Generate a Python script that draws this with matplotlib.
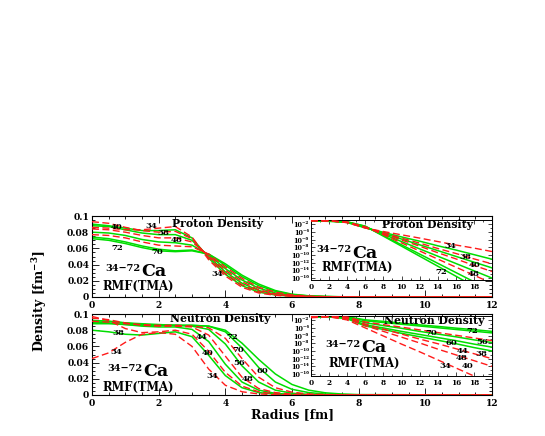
import matplotlib
matplotlib.use('Agg')
import matplotlib.pyplot as plt
from matplotlib.ticker import MultipleLocator, FixedLocator, NullFormatter, FixedFormatter

plt.rcParams['font.family'] = ['DejaVu Serif']
plt.rcParams['font.weight'] = 'bold'
plt.rcParams['mathtext.fontset'] = 'dejavuserif'
plt.rcParams['mathtext.default'] = 'bf'

# ---------------- data ----------------
isotopes = [34, 38, 40, 44, 48, 56, 60, 70, 72]
styles_p = ['r', 'g', 'r', 'g', 'r', 'g', 'r', 'g', 'g']
styles_n = ['r', 'g', 'r', 'g', 'r', 'g', 'r', 'g', 'g']

radius = [0, 0.5, 1, 1.5, 2, 2.5, 3, 3.5, 4, 4.5, 5, 5.5, 6, 6.5, 7, 7.5, 8, 12]

proton_34 = [.086, .085, .083, .083, .085, .087, .074, .046, .026, .012, .005, .002, .0008, .0003, .0001, 0, 0, 0]
proton_38 = [.090, .088, .085, .082, .082, .083, .073, .048, .028, .014, .006, .0025, .001, .0004, .0002, .0001, 0, 0]
proton_40 = [.093, .091, .086, .082, .080, .081, .072, .049, .029, .015, .007, .003, .0012, .0005, .0002, .0001, 0, 0]
proton_44 = [.088, .087, .083, .079, .077, .077, .070, .050, .031, .017, .008, .0035, .0014, .0006, .0002, .0001, 0, 0]
proton_48 = [.084, .083, .080, .076, .073, .073, .068, .051, .033, .019, .009, .004, .0017, .0007, .0003, .0001, 0, 0]
proton_56 = [.080, .079, .076, .071, .068, .067, .064, .052, .035, .021, .011, .005, .002, .0009, .0004, .0001, 0, 0]
proton_60 = [.077, .076, .073, .068, .064, .063, .062, .053, .037, .023, .012, .006, .0026, .0011, .0005, .0002, 0, 0]
proton_70 = [.074, .072, .068, .063, .059, .057, .058, .053, .039, .025, .014, .007, .003, .0013, .0006, .0002, 0, 0]
proton_72 = [.072, .070, .066, .061, .057, .056, .057, .053, .041, .027, .016, .008, .0035, .0015, .0007, .0003, .0001, 0]

neutron_34 = [.045, .052, .065, .075, .077, .075, .060, .032, .012, .004, .0013, .0004, .0001, 0, 0, 0, 0, 0]
neutron_38 = [.080, .078, .075, .074, .076, .078, .072, .049, .024, .009, .003, .001, .0003, .0001, 0, 0, 0, 0]
neutron_40 = [.097, .092, .082, .077, .078, .080, .075, .054, .028, .011, .004, .0013, .0004, .0001, 0, 0, 0, 0]
neutron_44 = [.090, .089, .087, .085, .084, .084, .081, .066, .038, .016, .006, .002, .0006, .0002, .0001, 0, 0, 0]
neutron_48 = [.095, .093, .089, .086, .085, .085, .084, .074, .048, .022, .008, .003, .001, .0003, .0001, 0, 0, 0]
neutron_56 = [.088, .088, .087, .086, .086, .086, .085, .081, .063, .036, .016, .006, .0022, .0008, .0003, .0001, 0, 0]
neutron_60 = [.091, .090, .088, .087, .086, .086, .085, .083, .070, .045, .022, .009, .0035, .0013, .0005, .0002, .0001, 0]
neutron_70 = [.092, .091, .089, .087, .086, .086, .086, .085, .078, .058, .034, .016, .007, .003, .0012, .0005, .0002, 0]
neutron_72 = [.092, .091, .089, .088, .087, .086, .086, .085, .080, .064, .044, .026, .013, .006, .0027, .0012, .0005, 0]

radius_log = [0, 2, 4, 6, 8, 10, 12, 14, 16, 18, 20]

log_proton_34 = [-1.07, -1.07, -1.59, -3.0, -3.9, -4.75, -5.6, -6.5, -7.4, -8.2, -9.1]
log_proton_38 = [-1.05, -1.09, -1.55, -2.95, -4.1, -5.3, -6.4, -7.6, -8.7, -9.9, -11.1]
log_proton_40 = [-1.03, -1.10, -1.54, -2.9, -4.25, -5.6, -6.9, -8.3, -9.6, -11.0, -12.3]
log_proton_44 = [-1.06, -1.11, -1.51, -2.85, -4.35, -5.85, -7.35, -8.85, -10.35, -11.85, -13.35]
log_proton_48 = [-1.08, -1.13, -1.48, -2.8, -4.45, -6.1, -7.7, -9.4, -11.0, -12.7, -14.3]
log_proton_56 = [-1.10, -1.16, -1.45, -2.7, -4.6, -6.5, -8.4, -10.3, -12.2, -14.1, -16.0]
log_proton_60 = [-1.11, -1.19, -1.43, -2.65, -4.75, -6.85, -8.95, -11.05, -13.15, -15.25, -17.35]
log_proton_70 = [-1.13, -1.23, -1.39, -2.55, -4.95, -7.35, -9.75, -12.15, -14.55, -16.95, -19.35]
log_proton_72 = [-1.14, -1.25, -1.38, -2.5, -5.1, -7.7, -10.3, -12.9, -15.5, -18.1, -20.7]

log_neutron_34 = [-1.35, -1.11, -1.92, -4.0, -6.1, -8.2, -10.2, -12.3, -14.4, -16.5, -18.6]
log_neutron_38 = [-1.10, -1.12, -1.62, -3.5, -4.4, -5.4, -6.3, -7.2, -8.1, -9.1, -10.0]
log_neutron_40 = [-1.01, -1.11, -1.55, -3.4, -4.9, -6.4, -7.9, -9.5, -11.0, -12.5, -14.0]
log_neutron_44 = [-1.05, -1.08, -1.42, -3.2, -4.0, -4.9, -5.7, -6.5, -7.3, -8.2, -9.0]
log_neutron_48 = [-1.02, -1.07, -1.32, -3.0, -4.3, -5.6, -6.9, -8.1, -9.4, -10.7, -12.0]
log_neutron_56 = [-1.06, -1.07, -1.20, -2.66, -3.4, -4.1, -4.9, -5.6, -6.3, -7.1, -7.8]
log_neutron_60 = [-1.04, -1.07, -1.15, -2.46, -3.15, -3.8, -4.5, -5.2, -5.9, -6.6, -7.3]
log_neutron_70 = [-1.04, -1.07, -1.11, -2.15, -2.6, -3.05, -3.5, -3.95, -4.4, -4.85, -5.3]
log_neutron_72 = [-1.04, -1.06, -1.10, -1.89, -2.3, -2.75, -3.2, -3.6, -4.05, -4.45, -4.9]

proton_main = [proton_34, proton_38, proton_40, proton_44, proton_48, proton_56, proton_60, proton_70, proton_72]
neutron_main = [neutron_34, neutron_38, neutron_40, neutron_44, neutron_48, neutron_56, neutron_60, neutron_70, neutron_72]
proton_log = [log_proton_34, log_proton_38, log_proton_40, log_proton_44, log_proton_48,
              log_proton_56, log_proton_60, log_proton_70, log_proton_72]
neutron_log = [log_neutron_34, log_neutron_38, log_neutron_40, log_neutron_44, log_neutron_48,
               log_neutron_56, log_neutron_60, log_neutron_70, log_neutron_72]

# isotope labels: (text, r, density)
labels_p_main = [('40', 0.75, 0.087), ('34', 1.78, 0.0875), ('38', 2.15, 0.0795), ('48', 2.55, 0.070),
                 ('72', 0.75, 0.060), ('70', 1.95, 0.055), ('34', 3.75, 0.028)]
labels_n_main = [('38', 0.8, 0.076), ('34', 0.72, 0.053), ('44', 3.3, 0.072), ('72', 4.2, 0.072),
                 ('70', 4.38, 0.055), ('40', 3.48, 0.052), ('56', 4.42, 0.040), ('60', 5.1, 0.030),
                 ('48', 4.68, 0.020), ('34', 3.6, 0.023)]
labels_p_log = [('34', 15.4, -7.6), ('38', 17.0, -10.6), ('40', 18.1, -12.5), ('48', 18.0, -14.95),
                ('72', 14.4, -14.3)]
labels_n_log = [('70', 13.3, -5.4), ('72', 17.8, -4.8), ('56', 18.9, -7.6), ('60', 15.5, -8.0),
                ('44', 16.7, -9.9), ('38', 18.8, -10.8), ('48', 16.6, -11.9), ('34', 14.8, -13.9),
                ('40', 17.3, -13.9)]

y_ticks_main = [0, 0.02, 0.04, 0.06, 0.08, 0.1]
y_ticklabels_main = ['0', '0.02', '0.04', '0.06', '0.08', '0.1']
x_ticks_main = [0, 2, 4, 6, 8, 10, 12]
x_ticks_inset = [0, 2, 4, 6, 8, 10, 12, 14, 16, 18]
y_ticks_inset = [1e-2, 1e-4, 1e-6, 1e-8, 1e-10, 1e-12, 1e-14, 1e-16]
y_ticklabels_inset = ['10\u207b\u00b2', '10\u207b\u2074', '10\u207b\u2076', '10\u207b\u2078',
                      '10\u207b\u00b9\u2070', '10\u207b\u00b9\u00b2', '10\u207b\u00b9\u2074',
                      '10\u207b\u00b9\u2076']

# ---------------- figure ----------------
W, H = 545, 436
fig = plt.figure(figsize=(W / 100, H / 100), dpi=100)


def rect(x0, y0, x1, y1):
    return [x0 / W, 1 - y1 / H, (x1 - x0) / W, (y1 - y0) / H]


ax_p = fig.add_axes(rect(92, 216, 492, 297))
ax_n = fig.add_axes(rect(92, 314, 492, 395))
in_p = fig.add_axes(rect(311, 220, 492, 280))
in_n = fig.add_axes(rect(311, 316, 492, 376))

GREEN = '#00dd00'
RED = '#ff1a1a'


def draw(ax, xs, series, styles, log=False):
    for vals, st in zip(series, styles):
        ys = [10 ** v for v in vals] if log else vals
        if st == 'g':
            ax.plot(xs, ys, color=GREEN, lw=1.1, solid_joinstyle='round', zorder=2)
        else:
            ax.plot(xs, ys, color=RED, lw=1.0, dashes=(5, 2.5), zorder=3)


def style_main(ax):
    ax.set_xlim(0, 12)
    ax.set_ylim(0, 0.1)
    ax.yaxis.set_major_locator(FixedLocator(y_ticks_main))
    ax.yaxis.set_major_formatter(FixedFormatter(y_ticklabels_main))
    ax.yaxis.set_minor_locator(MultipleLocator(0.005))
    ax.xaxis.set_major_locator(FixedLocator(x_ticks_main))
    ax.xaxis.set_minor_locator(MultipleLocator(0.5))
    ax.tick_params(which='both', direction='in', top=True, right=True, width=0.6)
    ax.tick_params(which='major', length=5, labelsize=6.6)
    ax.tick_params(which='minor', length=2.5)
    ax.tick_params(axis='y', pad=2)
    ax.tick_params(axis='x', pad=3)
    for s in ax.spines.values():
        s.set_linewidth(0.8)


def style_inset(ax):
    ax.set_xlim(0, 20)
    ax.set_yscale('log')
    ax.set_ylim(10 ** -16.5, 10 ** -0.9)
    ax.xaxis.set_major_locator(FixedLocator(x_ticks_inset))
    ax.xaxis.set_minor_locator(MultipleLocator(1))
    ax.yaxis.set_major_locator(FixedLocator(y_ticks_inset))
    ax.yaxis.set_major_formatter(FixedFormatter(y_ticklabels_inset))
    ax.yaxis.set_minor_locator(FixedLocator([10.0 ** (-k) for k in range(1, 17, 2)]))
    ax.yaxis.set_minor_formatter(NullFormatter())
    ax.tick_params(which='both', direction='in', top=True, right=True, width=0.5)
    ax.tick_params(which='major', length=3)
    ax.tick_params(which='minor', length=1.5)
    ax.tick_params(axis='x', labelsize=5.3, pad=2)
    ax.tick_params(axis='y', labelsize=4.7, pad=1.5)
    for s in ax.spines.values():
        s.set_linewidth(0.7)


draw(ax_p, radius, proton_main, styles_p)
draw(ax_n, radius, neutron_main, styles_n)
draw(in_p, radius_log, proton_log, styles_p, log=True)
draw(in_n, radius_log, neutron_log, styles_n, log=True)

for ax in (ax_p, ax_n):
    style_main(ax)
for ax in (in_p, in_n):
    style_inset(ax)

lab_fs = 6.1
for t, x, y in labels_p_main:
    ax_p.text(x, y, t, fontsize=lab_fs, ha='center', va='center', zorder=5)
for t, x, y in labels_n_main:
    ax_n.text(x, y, t, fontsize=lab_fs, ha='center', va='center', zorder=5)
for t, x, y in labels_p_log:
    in_p.text(x, 10 ** y, t, fontsize=lab_fs, ha='center', va='center', zorder=5)
for t, x, y in labels_n_log:
    in_n.text(x, 10 ** y, t, fontsize=lab_fs, ha='center', va='center', zorder=5)


def panel_texts(ax, title, tx, ty, cax, cay, rx, ry, sup_dx, sup_dy):
    ax.text(tx, ty, title, transform=ax.transAxes, fontsize=7.8, ha='center', va='center', zorder=5)
    ax.text(cax, cay + sup_dy, '34\u221272', transform=ax.transAxes, fontsize=7, ha='left',
            va='baseline', zorder=5)
    ax.text(cax + sup_dx, cay, 'Ca', transform=ax.transAxes, fontsize=12.5, ha='left',
            va='baseline', zorder=5)
    ax.text(rx, ry, 'RMF(TMA)', transform=ax.transAxes, fontsize=8.3, ha='left',
            va='baseline', zorder=5)


# main panels (axes width 400 px, height 81 px)
panel_texts(ax_p, 'Proton Density', 0.315, 0.91, 13 / 400, 21 / 81, 10 / 400, 7.5 / 81,
            36 / 400, 5.3 / 81)
panel_texts(ax_n, 'Neutron Density', 0.32, 0.94, 15 / 400, 18.5 / 81, 10 / 400, 4 / 81,
            36 / 400, 5.3 / 81)
# insets (width 181 px, height 60 px)
panel_texts(in_p, 'Proton Density', 0.644, 0.93, 5 / 181, 22.5 / 60, 10.7 / 181, 9 / 60,
            36 / 181, 5.3 / 60)
panel_texts(in_n, 'Neutron Density', 0.68, 0.92, 14 / 181, 24 / 60, 17 / 181, 9.3 / 60,
            36 / 181, 5.3 / 60)

fig.text(293 / W, 1 - 415 / H, 'Radius [fm]', fontsize=9, ha='center', va='center')
fig.text(40 / W, 1 - 301 / H, r'Density [fm$^{-3}$]', fontsize=9, ha='center', va='center',
         rotation=90)

fig.savefig('out.png', dpi=100, facecolor='white')
